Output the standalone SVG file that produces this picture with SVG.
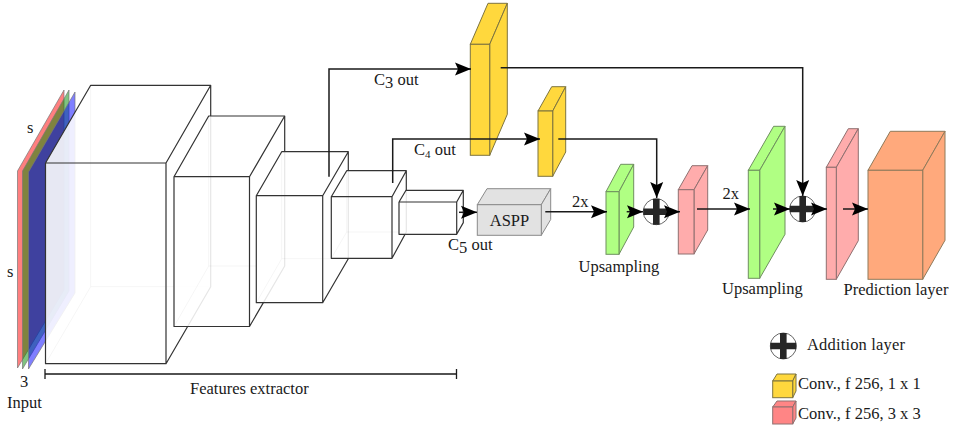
<svg xmlns="http://www.w3.org/2000/svg" width="953" height="430" viewBox="0 0 953 430">
<defs>
<style>
text{font-family:"Liberation Serif","Times New Roman",serif;font-size:16.5px;fill:#1a1a1a}
.hull{fill:#fff;fill-opacity:.88;stroke:none}
.hid{fill:none;stroke:#000;stroke-opacity:.04;stroke-width:1}
.edge{fill:none;stroke:#333;stroke-width:1.2;stroke-linejoin:round}
.y{fill:#ffd633;fill-opacity:.95;stroke:#7d7440;stroke-width:1}
.g{fill:#a9ff78;fill-opacity:.92;stroke:#6f8f5f;stroke-width:1}
.p{fill:#ffa8a8;fill-opacity:.95;stroke:#8f7070;stroke-width:1}
.o{fill:#ffa97c;stroke:#8f7a5a;stroke-width:1}
.a{fill:#e2e2e2;stroke:#8a8a8a;stroke-width:1}
.r{fill:#ff8585;stroke:#8f7070;stroke-width:1}
.wire{fill:none;stroke:#1a1a1a;stroke-width:1.5;marker-end:url(#arrow)}
.sheet{stroke:#777;stroke-width:.7;fill-opacity:.5}
.circ{fill:#fff;stroke:#666;stroke-width:1}
.bar{fill:#262626}
</style>
<marker id="arrow" markerUnits="userSpaceOnUse" markerWidth="18" markerHeight="16" refX="16" refY="8" orient="auto">
<path d="M0,1.5 L16,8 L0,14.5 L3,8 z" fill="#000"/>
</marker>
</defs>
<rect width="953" height="430" fill="#fff"/>

<g id="input">
<polygon class="sheet" fill="#f00" points="17.5,171 64,90 64,290 17.5,368"/>
<polygon class="sheet" fill="#080" points="22.5,171 69,90 69,291 22.5,369"/>
<polygon class="sheet" fill="#00f" points="28.5,172 75,92 75,293 28.5,369"/>
<text x="27" y="133">s</text>
<text x="7" y="277">s</text>
<text x="20" y="387">3</text>
<text x="7" y="408">Input</text>
</g>

<g id="cube1">
<polygon class="hull" points="45.5,163 90.7,85.3 210.7,85.3 210.7,286.7 166,363.7 45.5,363.7"/>
<path class="hid" d="M90.7,85.3V286.7H210.7M90.7,286.7L45.5,363.7"/>
<path class="edge" d="M45.5,163H166V363.7H45.5ZM45.5,163L90.7,85.3H210.7V286.7L166,363.7M166,163L210.7,85.3"/>
</g>
<g id="cube2">
<polygon class="hull" points="174,176.7 208.7,116 284.7,116 284.7,266 249.5,326.5 174,326.5"/>
<path class="hid" d="M208.7,116V266H284.7M208.7,266L174,326.5"/>
<path class="edge" d="M174,176.7H249.5V326.5H174ZM174,176.7L208.7,116H284.7V266L249.5,326.5M249.5,176.7L284.7,116"/>
</g>
<g id="cube3">
<polygon class="hull" points="256.3,195.7 281.7,151.7 348.3,151.7 348.3,258.7 322.7,302.7 256.3,302.7"/>
<path class="hid" d="M281.7,151.7V258.7H348.3M281.7,258.7L256.3,302.7"/>
<path class="edge" d="M256.3,195.7H322.7V302.7H256.3ZM256.3,195.7L281.7,151.7H348.3V258.7L322.7,302.7M322.7,195.7L348.3,151.7"/>
</g>
<g id="cube4">
<polygon class="hull" points="331.3,196.7 346.7,170.7 406.3,170.7 406.3,232 392,258.3 331.3,258.3"/>
<path class="hid" d="M346.7,170.7V232H406.3M346.7,232L331.3,258.3"/>
<path class="edge" d="M331.3,196.7H392V258.3H331.3ZM331.3,196.7L346.7,170.7H406.3V232L392,258.3M392,196.7L406.3,170.7"/>
</g>
<g id="cube5">
<polygon class="hull" points="399,202 406,190.3 463.3,190.3 463.3,222.6 456.7,234.3 399,234.3"/>
<path class="edge" stroke-width="1" d="M399,202H456.7V234.3H399ZM399,202L406,190.3H463.3V222.6L456.7,234.3M456.7,202L463.3,190.3"/>
</g>

<g id="aspp">
<polygon class="a" points="477.3,204.7 487,188.7 550.7,188.7 541.3,204.7"/>
<polygon class="a" points="541.3,204.7 550.7,188.7 550.7,219.5 541.3,235.3"/>
<rect class="a" x="477.3" y="204.7" width="64" height="30.6"/>
<text x="509.5" y="225.5" text-anchor="middle">ASPP</text>
</g>
<g id="conv1a">
<polygon class="y" points="470.3,44.3 488,3.3 507.3,3.3 489.7,44.3"/>
<polygon class="y" points="489.7,44.3 507.3,3.3 507.3,114.3 489.7,155.3"/>
<rect class="y" x="470.3" y="44.3" width="19.4" height="111"/>
</g>
<g id="conv1b">
<polygon class="y" points="538,111 551.7,86.7 565.7,86.7 552.7,111"/>
<polygon class="y" points="552.7,111 565.7,86.7 565.7,152 552.7,176.3"/>
<rect class="y" x="538" y="111" width="14.7" height="65.3"/>
</g>
<g id="up1">
<polygon class="g" points="606,191.7 620.7,164.3 633.7,164.3 619,191.7"/>
<polygon class="g" points="619,191.7 633.7,164.3 633.7,227 619,254.3"/>
<rect class="g" x="606" y="191.7" width="13" height="62.6"/>
<text x="578.5" y="272">Upsampling</text>
</g>
<g id="conv3a">
<polygon class="p" points="678.3,189.7 692,165.7 707.7,165.7 694,189.7"/>
<polygon class="p" points="694,189.7 707.7,165.7 707.7,230 694,254"/>
<rect class="p" x="678.3" y="189.7" width="15.7" height="64.3"/>
</g>
<g id="up2">
<polygon class="g" points="748.3,170.3 773.6,126.3 785,126.3 759.7,170.3"/>
<polygon class="g" points="759.7,170.3 785,126.3 785,234.3 759.7,278.3"/>
<rect class="g" x="748.3" y="170.3" width="11.4" height="108"/>
<text x="722" y="294">Upsampling</text>
</g>
<g id="conv3b">
<polygon class="p" points="826.3,167.3 848.3,128.7 858.3,128.7 836.3,167.3"/>
<polygon class="p" points="836.3,167.3 858.3,128.7 858.3,240.7 836.3,279.3"/>
<rect class="p" x="826.3" y="167.3" width="10" height="112"/>
</g>
<g id="prediction">
<polygon class="o" points="868,170.3 890.3,131.3 945,131.3 922.7,170.3"/>
<polygon class="o" points="922.7,170.3 945,131.3 945,240.3 922.7,279.3"/>
<rect class="o" x="868" y="170.3" width="54.7" height="109"/>
<text x="843.5" y="295">Prediction layer</text>
</g>
<g id="add1">
<circle class="circ" cx="656.3" cy="211.7" r="13"/>
<path class="bar" d="M653,198.7h6.6v9.7h9.7v6.6h-9.7v9.7h-6.6v-9.7h-9.7v-6.6h9.7z"/>
</g>
<g id="add2">
<circle class="circ" cx="802.7" cy="209" r="13"/>
<path class="bar" d="M799.4,196h6.6v9.7h9.7v6.6h-9.7v9.7h-6.6v-9.7h-9.7v-6.6h9.7z"/>
</g>

<g id="connectors">
<path class="wire" d="M329,176.7V69H471"/>
<path class="wire" d="M392.7,183V139H540"/>
<path class="wire" d="M459,212.3H477"/>
<path class="wire" d="M500.7,67.7H802.7V196"/>
<path class="wire" d="M558.3,139H656.7V198"/>
<path class="wire" d="M545.3,211.7H607"/>
<path class="wire" d="M626.7,211.7H643"/>
<path class="wire" d="M669,211.7H680"/>
<path class="wire" d="M697,209H750"/>
<path class="wire" d="M773,209H790"/>
<path class="wire" d="M816,209H827"/>
<path class="wire" d="M843,209H868"/>
<path fill="none" stroke="#1a1a1a" stroke-width="1.3" d="M45,369V379M45,374H456.5M456.5,369V379"/>
</g>

<g id="labels">
<text x="374" y="85">C<tspan dy="3">3</tspan><tspan dy="-3"> out</tspan></text>
<text x="414" y="155">C<tspan dy="3" font-size="11">4</tspan><tspan dy="-3"> out</tspan></text>
<text x="448" y="250">C<tspan dy="3">5</tspan><tspan dy="-3"> out</tspan></text>
<text x="572" y="207">2x</text>
<text x="722.5" y="199">2x</text>
<text x="190" y="394">Features extractor</text>
</g>

<g id="legend">
<circle class="circ" cx="783.3" cy="346" r="13"/>
<path class="bar" d="M780,333h6.6v9.7h9.7v6.6h-9.7v9.7h-6.6v-9.7h-9.7v-6.6h9.7z"/>
<text x="807" y="349.5" textLength="98">Addition layer</text>
<polygon class="y" points="772.7,381 777,374 796,374 792.7,381"/>
<polygon class="y" points="792.7,381 796,374 796,391 792.7,397.7"/>
<rect class="y" x="772.7" y="381" width="20" height="16.7"/>
<text x="798" y="389">Conv., f 256, 1 x 1</text>
<polygon class="r" points="772.7,407 777,401 796,401 792.7,407"/>
<polygon class="r" points="792.7,407 796,401 796,418 792.7,424"/>
<rect class="r" x="772.7" y="407" width="20" height="17"/>
<text x="798" y="419">Conv., f 256, 3 x 3</text>
</g>
</svg>
